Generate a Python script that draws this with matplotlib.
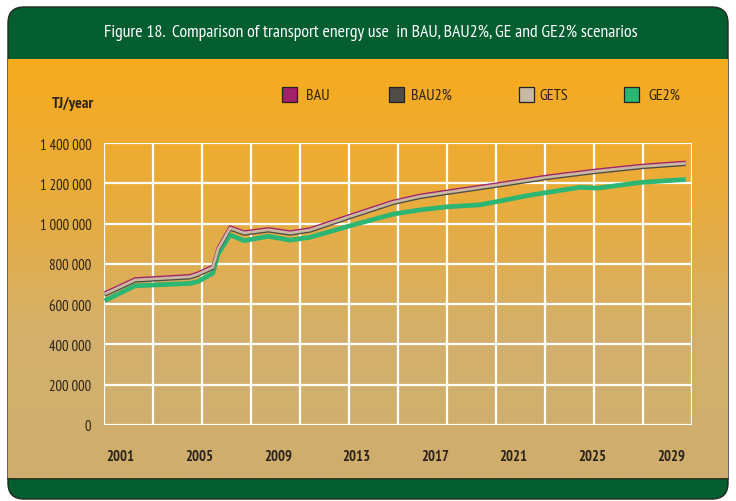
import numpy as np
import matplotlib
matplotlib.use("Agg")
import matplotlib.pyplot as plt
from matplotlib.patches import FancyBboxPatch, Rectangle
from matplotlib.colors import LinearSegmentedColormap

plt.rcParams['font.family'] = ['PT Sans Narrow', 'DejaVu Sans']

# %% Data
series_names = ["BAU", "BAU2%", "GETS", "GE2%"]
series_colors = ["#A3206B", "#4E4C44", "#C9B9A2", "#2BB673"]

years_bau = [2001.0, 2002.52, 2005.26, 2005.66, 2006.40, 2006.66, 2007.26, 2007.96,
             2009.17, 2010.25, 2011.25, 2013.24, 2015.39, 2016.74, 2018.07, 2020.56,
             2023.02, 2025.46, 2027.87, 2029.99]
gets = [650e3, 720e3, 736e3, 749e3, 783e3, 873e3, 978e3, 953e3,
        969e3, 953e3, 968e3, 1035e3, 1105e3, 1135e3, 1155e3, 1191e3,
        1229e3, 1259e3, 1284e3, 1299e3]
bau = [v + 6e3 for v in gets]
bau2 = [v - 6e3 for v in gets]

years_ge2 = [2001.0, 2002.52, 2005.26, 2005.66, 2006.40, 2006.66, 2007.26, 2007.96,
             2009.17, 2010.25, 2011.25, 2013.24, 2015.39, 2016.74, 2018.07, 2019.73,
             2022.22, 2024.72, 2025.61, 2027.72, 2029.99]
ge2 = [617e3, 691e3, 703e3, 712e3, 754e3, 849e3, 944e3, 915e3,
       937e3, 918e3, 932e3, 989e3, 1047e3, 1068e3, 1083e3, 1093e3,
       1141e3, 1180e3, 1176e3, 1204e3, 1219e3]

tick_years = ["2001", "2005", "2009", "2013", "2017", "2021", "2025", "2029"]
y_ticks = [0, 200000, 400000, 600000, 800000, 1000000, 1200000, 1400000]

title = "Figure 18.  Comparison of transport energy use  in BAU, BAU2%, GE and GE2% scenarios"

# %% Figure / background panel
W, H = 736, 502
fig = plt.figure(figsize=(W / 100, H / 100), dpi=100)
fig.patch.set_facecolor("white")

bg = fig.add_axes([0, 0, 1, 1])
bg.set_xlim(0, W); bg.set_ylim(H, 0); bg.axis("off")

green = "#055E30"
box = FancyBboxPatch((8, 8), 720, 492, boxstyle="round,pad=0,rounding_size=16",
                     facecolor=green, edgecolor="#1E2A1E", lw=1.0, zorder=1)
bg.add_patch(box)

grad_cmap = LinearSegmentedColormap.from_list("body", ["#F7AB1D", "#E9AC3C", "#D3B06C", "#CFAE6E"])
grad = np.linspace(0, 1, 256).reshape(-1, 1)
im = bg.imshow(grad, extent=(8, 728, 479, 60), cmap=grad_cmap, aspect="auto", zorder=2)
im.set_clip_path(box)
bg.plot([8, 728], [479.5, 479.5], color="#2A3A20", lw=1.2, zorder=3)

bg.text(371, 33, title, color="white", fontsize=12.8, ha="center", va="center", zorder=4)

# legend
leg_sq_x = [282, 389, 519, 624]
leg_tx_x = [306, 411, 539, 648]
for name, col, sx, tx in zip(series_names, series_colors, leg_sq_x, leg_tx_x):
    bg.add_patch(Rectangle((sx, 88), 15, 15, facecolor=col, edgecolor="#222222", lw=0.9, zorder=4))
    bg.text(tx, 96, name, fontsize=11.5, color="#2A2118", ha="left", va="center", zorder=4)

bg.text(52, 104, "TJ/year", fontsize=11.5, fontweight="bold", color="#2A2118",
        ha="left", va="center", zorder=4)

# %% Plot area
x0, x1 = 2000.97, 2030.32
ax = fig.add_axes([104 / W, 1 - 426 / H, (692.3 - 104) / W, (426 - 144) / H])
ax.patch.set_alpha(0)
ax.set_xlim(x0, x1)
ax.set_ylim(0, 1400000)

for gx in np.linspace(x0, x1, 13):
    ax.axvline(gx, color="white", lw=1.6, zorder=1)
for gy in y_ticks:
    ax.axhline(gy, color="white", lw=1.6, zorder=1)
for s in ax.spines.values():
    s.set_visible(False)

ax.plot(years_bau, bau, color=series_colors[0], lw=2.2, solid_capstyle="butt", zorder=3)
ax.plot(years_bau, bau2, color=series_colors[1], lw=2.2, solid_capstyle="butt", zorder=4)
ax.plot(years_bau, gets, color=series_colors[2], lw=2.0, solid_capstyle="butt", zorder=5)
ax.plot(years_ge2, ge2, color=series_colors[3], lw=3.4, solid_capstyle="butt", zorder=2)

ax.set_yticks(y_ticks)
ax.set_yticklabels([f"{v:,}".replace(",", " ") for v in y_ticks], fontsize=10.5, color="#2A2118")
ax.set_xticks(np.linspace(2001.8, 2029.25, len(tick_years)))
ax.set_xticklabels(tick_years, fontsize=10.5, fontweight="bold", color="#2A2118")
ax.tick_params(axis="both", length=0)
ax.tick_params(axis="y", pad=9)
ax.tick_params(axis="x", pad=17)

fig.savefig("out.png", dpi=100)
